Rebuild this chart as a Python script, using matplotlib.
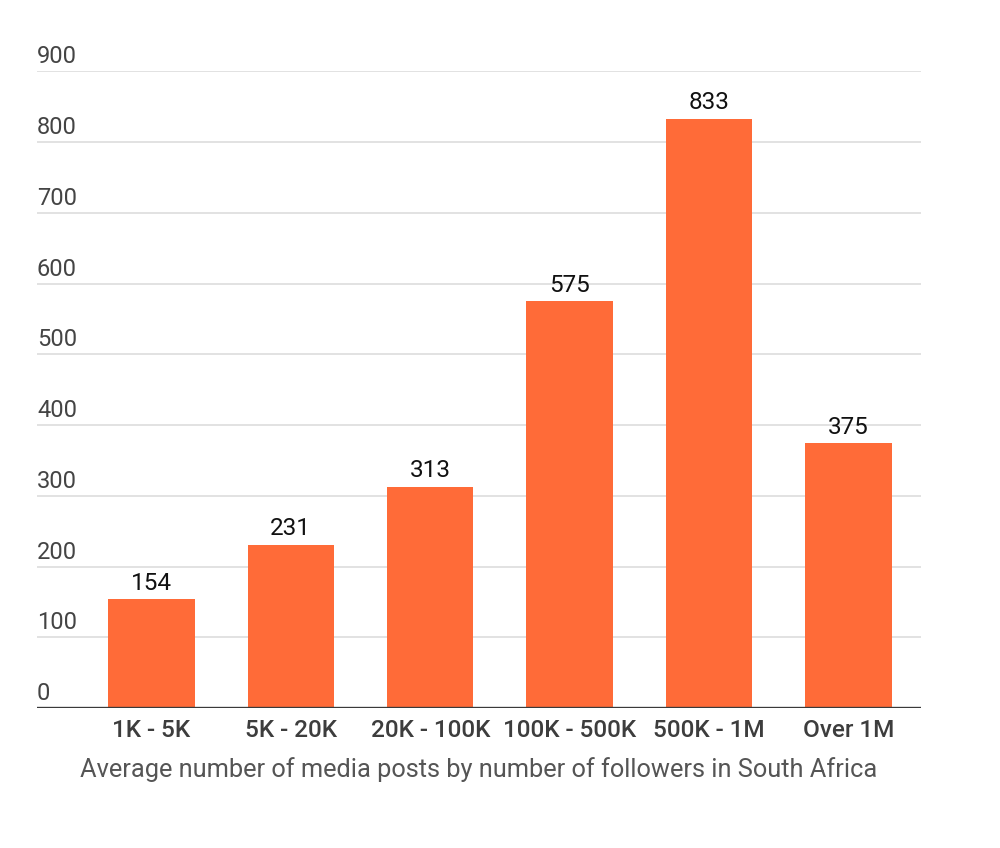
import matplotlib
matplotlib.use("Agg")
from matplotlib import pyplot as plt
from matplotlib import transforms

categories = ["1K - 5K", "5K - 20K", "20K - 100K", "100K - 500K", "500K - 1M", "Over 1M"]
values = [154, 231, 313, 575, 833, 375]
y_ticks = [0, 100, 200, 300, 400, 500, 600, 700, 800, 900]
caption = "Average number of media posts by number of followers in South Africa"

plt.rcParams['font.family'] = ['Roboto', 'DejaVu Sans']

fig = plt.figure(figsize=(10, 8.48), dpi=100)
ax = fig.add_axes([0.037, 0.165, 0.884, 0.751])

x = list(range(len(categories)))
bars = ax.bar(x, values, width=0.62, color="#FF6B38", zorder=2)

# gridlines
for t in y_ticks[1:]:
    ax.axhline(t, color="#dddddd", linewidth=1.2, zorder=1)
ax.axhline(0, color="#3a3a3a", linewidth=2.4, zorder=3)

ax.set_xlim(-0.82, 5.52)
ax.set_ylim(0, 900)

# value labels above bars
for xi, v in zip(x, values):
    ax.annotate(str(v), (xi, v), xytext=(0, 3), textcoords="offset points",
                ha="center", va="bottom", fontsize=17.5, color="#111111")

# y labels sit above the gridlines, left aligned
trans = transforms.blended_transform_factory(ax.transAxes, ax.transData)
for t in y_ticks:
    ax.text(0.0, t + 4, str(t), transform=trans, ha="left", va="bottom",
            fontsize=17, color="#444444")

ax.set_xticks(x)
ax.set_xticklabels(categories, fontsize=17.5, color="#3d3d3d", fontweight="medium")
ax.tick_params(axis="x", length=0, pad=8)
ax.set_yticks([])
for s in ax.spines.values():
    s.set_visible(False)

fig.text(0.479, 0.092, caption, ha="center", va="center", fontsize=18.3, color="#555555")

fig.savefig("out.png", dpi=100, facecolor="white")
